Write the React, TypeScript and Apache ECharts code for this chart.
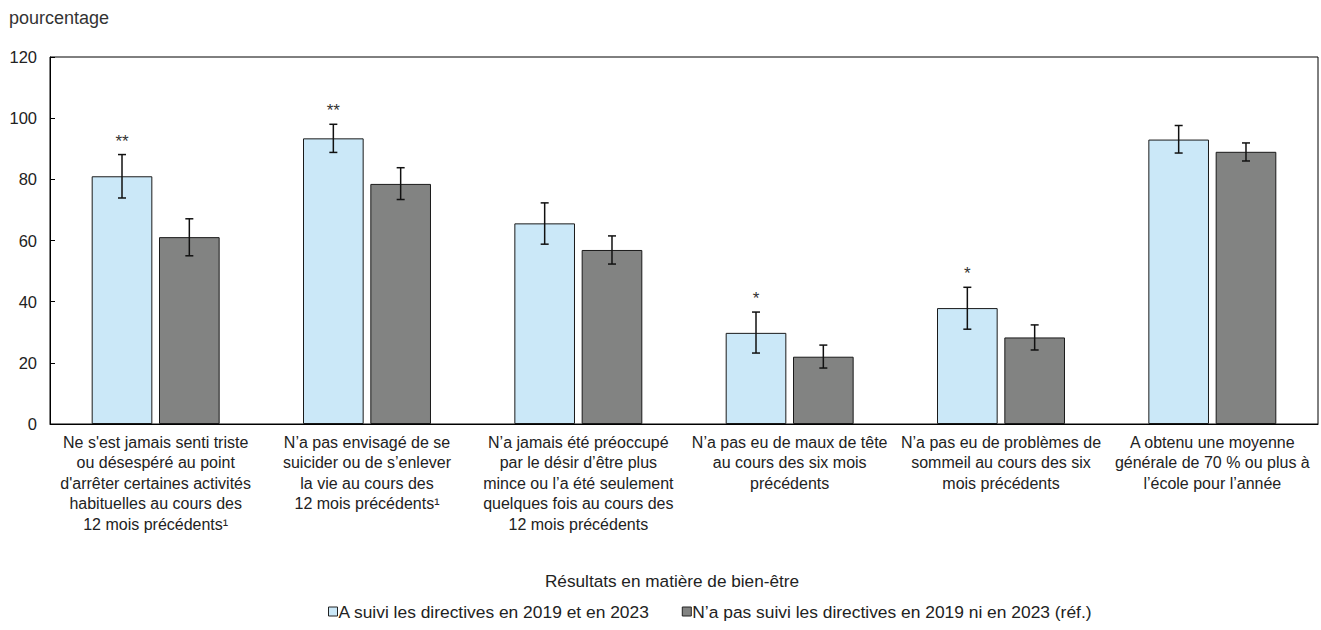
import React, { useEffect, useRef } from "react";
import * as echarts from "echarts";

const categories = [
  "Ne s'est jamais senti triste\nou désespéré au point\nd'arrêter certaines activités\nhabituelles au cours des\n12 mois précédents¹",
  "N’a pas envisagé de se\nsuicider ou de s’enlever\nla vie au cours des\n12 mois précédents¹",
  "N’a jamais été préoccupé\npar le désir d’être plus\nmince ou l’a été seulement\nquelques fois au cours des\n12 mois précédents",
  "N’a pas eu de maux de tête\nau cours des six mois\nprécédents",
  "N’a pas eu de problèmes de\nsommeil au cours des six\nmois précédents",
  "A obtenu une moyenne\ngénérale de 70 % ou plus à\nl’école pour l’année",
];

const seriesNames = [
  "A suivi les directives en 2019 et en 2023",
  "N’a pas suivi les directives en 2019 ni en 2023 (réf.)",
];

const followedValues = [81.0, 93.4, 65.6, 29.8, 37.9, 93.0];
const followedLow = [73.9, 88.8, 58.8, 23.2, 31.0, 88.6];
const followedHigh = [88.1, 98.0, 72.3, 36.6, 44.7, 97.6];
const followedMarks = ["**", "**", "", "*", "*", ""];

const notFollowedValues = [61.1, 78.5, 56.9, 22.0, 28.3, 89.0];
const notFollowedLow = [55.0, 73.4, 52.3, 18.3, 24.2, 86.0];
const notFollowedHigh = [67.1, 83.8, 61.5, 25.8, 32.4, 91.9];

const yTicks = { min: 0, max: 120, interval: 20 };

const BAR_RATIO = 0.287;
const GAP_RATIO = 0.11;

const FONT = "'Liberation Sans', Arial, Helvetica, sans-serif";

function errorSeries(low: number[], high: number[], marks: string[], side: number) {
  return {
    type: "custom",
    name: "err" + side,
    coordinateSystem: "cartesian2d",
    silent: true,
    z: 5,
    encode: { x: 0, y: [1, 2] },
    data: low.map((l, i) => [i, l, high[i]]),
    renderItem: (params: any, api: any) => {
      const idx = api.value(0);
      const pLow = api.coord([idx, api.value(1)]);
      const pHigh = api.coord([idx, api.value(2)]);
      const band = api.size([1, 0])[0];
      const bw = band * BAR_RATIO;
      const gap = bw * GAP_RATIO;
      const x = pLow[0] + side * (bw + gap) / 2;
      const cap = 4;
      const style = { stroke: "#111", lineWidth: 1.5 };
      const children: any[] = [
        { type: "line", shape: { x1: x, y1: pHigh[1], x2: x, y2: pLow[1] }, style },
        { type: "line", shape: { x1: x - cap, y1: pHigh[1], x2: x + cap, y2: pHigh[1] }, style },
        { type: "line", shape: { x1: x - cap, y1: pLow[1], x2: x + cap, y2: pLow[1] }, style },
      ];
      const mark = marks[idx];
      if (mark) {
        children.push({
          type: "text",
          x: x,
          y: pHigh[1] - 5,
          style: {
            text: mark,
            fill: "#333",
            font: "17px " + FONT,
            textAlign: "center",
            textVerticalAlign: "bottom",
          },
        });
      }
      return { type: "group", children };
    },
  };
}

export default function App() {
  const ref = useRef<HTMLDivElement>(null);
  useEffect(() => {
    if (!ref.current) return;
    const chart = echarts.init(ref.current, undefined, { renderer: "svg" });
    const option: any = {
      animation: false,
      backgroundColor: "#fff",
      title: {
        text: "pourcentage",
        left: 4,
        top: 4,
        textStyle: { fontFamily: FONT, fontSize: 18, fontWeight: "normal", color: "#333" },
      },
      legend: {
        left: 323,
        top: 598,
        itemWidth: 9,
        itemHeight: 9,
        itemGap: 32,
        icon: "rect",
        data: seriesNames,
        itemStyle: { borderColor: "#222", borderWidth: 1 },
        textStyle: { fontFamily: FONT, fontSize: 17.4, color: "#222", padding: [0, 0, 0, -4] },
      },
      grid: {
        left: 50,
        right: 3,
        top: 57,
        bottom: 206,
        show: true,
        borderColor: "#000",
        borderWidth: 1,
      },
      xAxis: {
        type: "category",
        data: categories,
        name: "Résultats en matière de bien-être",
        nameLocation: "middle",
        nameGap: 148,
        nameTextStyle: { fontFamily: FONT, fontSize: 17.2, color: "#222", padding: [0, 24, 0, 0] },
        axisLine: { lineStyle: { color: "#000", width: 1 } },
        axisTick: { inside: true, length: 4, lineStyle: { color: "#000" } },
        axisLabel: {
          interval: 0,
          fontFamily: FONT,
          fontSize: 16,
          lineHeight: 20.5,
          color: "#222",
          margin: 8,
        },
      },
      yAxis: {
        type: "value",
        min: yTicks.min,
        max: yTicks.max,
        interval: yTicks.interval,
        axisLine: { show: true, lineStyle: { color: "#000", width: 1 } },
        axisTick: { show: true, inside: true, length: 5, lineStyle: { color: "#000" } },
        splitLine: { show: false },
        axisLabel: { fontFamily: FONT, fontSize: 16.5, color: "#222", margin: 13 },
      },
      series: [
        {
          type: "bar",
          name: seriesNames[0],
          data: followedValues,
          barWidth: (BAR_RATIO * 100) + "%",
          barGap: (GAP_RATIO * 100) + "%",
          itemStyle: { color: "#cbe8f8", borderColor: "#1a1a1a", borderWidth: 1 },
        },
        {
          type: "bar",
          name: seriesNames[1],
          data: notFollowedValues,
          barWidth: (BAR_RATIO * 100) + "%",
          barGap: (GAP_RATIO * 100) + "%",
          itemStyle: { color: "#828382", borderColor: "#1a1a1a", borderWidth: 1 },
        },
        errorSeries(followedLow, followedHigh, followedMarks, -1),
        errorSeries(notFollowedLow, notFollowedHigh, [], 1),
      ],
    };
    chart.setOption(option);
    return () => chart.dispose();
  }, []);
  return (
    <div
      ref={ref}
      style={{ position: "absolute", left: 0, top: 0, width: 1321, height: 630 }}
    />
  );
}
